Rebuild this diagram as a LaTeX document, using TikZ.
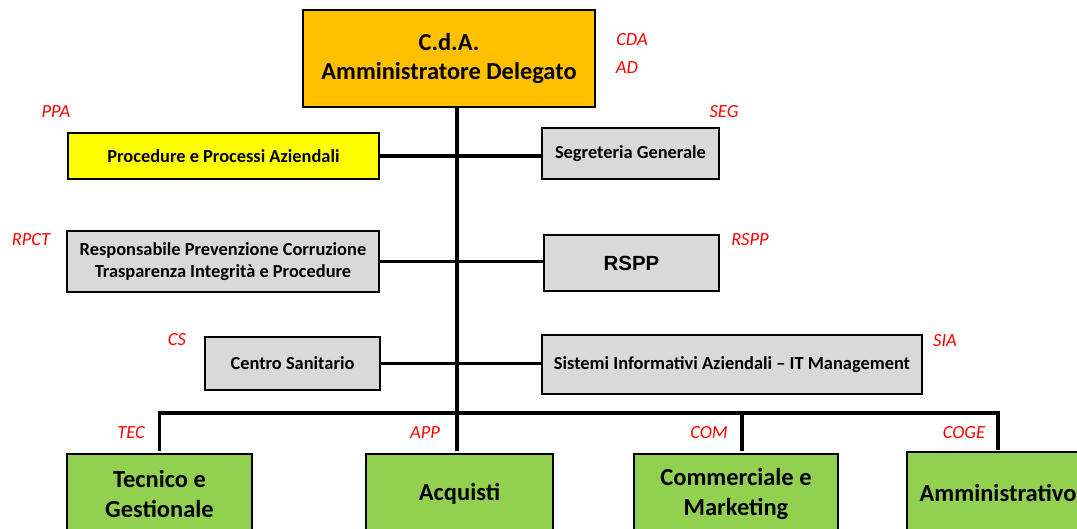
\documentclass[tikz,border=0pt]{standalone}
\usepackage{fontspec}
\setmainfont{Carlito}
\newfontfamily\arialfont{Liberation Sans}

\definecolor{cdaorange}{HTML}{FFC000}
\definecolor{ppayellow}{HTML}{FFFF00}
\definecolor{staffgray}{HTML}{D9D9D9}
\definecolor{areagreen}{HTML}{92D050}
\definecolor{codered}{HTML}{FF0000}

\begin{document}
\begin{tikzpicture}[x=1pt,y=-1pt,
    unit/.style ={draw, line width=2pt, align=center, inner sep=0pt,
      font=\bfseries\fontsize{18.4}{22}\selectfont},
    staff/.style ={unit, fill=staffgray},
    area/.style ={unit, fill=areagreen, font=\bfseries\fontsize{24.5}{30}\selectfont},
    code/.style ={text=codered, font=\itshape\fontsize{18.5}{20}\selectfont},
    link/.style ={line width=3.2pt}]
   \useasboundingbox (0,0) rectangle (1077,528);

   \node[unit, fill=cdaorange, minimum width=292, minimum height=97,
     font=\bfseries\fontsize{24.4}{29}\selectfont] (CDA) at (449,58.5)
     {C.d.A.\\Amministratore Delegato};
   \node[unit, fill=ppayellow, minimum width=311, minimum height=46] (PPA) at (223.5,156) {Procedure e Processi Aziendali};
   \node[staff, minimum width=177, minimum height=51] (SEG) at (630.5,153.5) {Segreteria Generale};
   \node[staff, minimum width=312, minimum height=61] (RPCT) at (223,261.5) {Responsabile Prevenzione Corruzione\\Trasparenza Integrità e Procedure};
   \node[staff, minimum width=175, minimum height=56,
     font=\arialfont\bfseries\fontsize{20.5}{24}\selectfont] (RSPP) at (631.5,263) {RSPP};
   \node[staff, minimum width=175, minimum height=53] (CS) at (292.5,363.5) {Centro Sanitario};
   \node[staff, minimum width=380, minimum height=59] (SIA) at (732,364.5) {Sistemi Informativi Aziendali -- IT Management};

   \node[area, minimum width=185, minimum height=80] (TEC) at (159.5,494) {Tecnico e\\Gestionale};
   \node[area, minimum width=187, minimum height=80] (APP) at (459.5,494) {Acquisti};
   \node[area, minimum width=204, minimum height=80] (COM) at (736,494) {Commerciale e\\Marketing};
   \node[area, minimum width=182, minimum height=82] (COGE) at (998,493) {Amministrativo};

   % sigle
   \node[code] (cCDA) at (632,40) {CDA};
   \node[code] (cAD) at (627,68) {AD};
   \node[code] (cPPA) at (56,112) {PPA};
   \node[code] (cSEG) at (724,112) {SEG};
   \node[code] (cRPCT) at (31,240) {RPCT};
   \node[code] (cRSPP) at (750,240) {RSPP};
   \node[code] (cCS) at (177,340) {CS};
   \node[code] (cSIA) at (945,341) {SIA};
   \node[code] (cTEC) at (131,433) {TEC};
   \node[code] (cAPP) at (425,433) {APP};
   \node[code] (cCOM) at (709,433) {COM};
   \node[code] (cCOGE) at (964,433) {COGE};

   \coordinate (bus) at (457,413);
   \draw[link] (CDA.south -| bus) to (bus);
   \draw[link] (PPA.east) to (PPA.east -| SEG.west);
   \draw[link] (RPCT.east) to (RPCT.east -| RSPP.west);
   \draw[link] (CS.east) to (CS.east -| SIA.west);
   \draw[link] ([yshift=2]TEC.north) |- (bus) -| ([yshift=1]COGE.north);
   \draw[link] (bus) to ([yshift=2]bus |- APP.north);
   \draw[link] ([xshift=6,yshift=2]COM.north) to ([xshift=6]COM.north |- bus);
 \end{tikzpicture}
\end{document}
